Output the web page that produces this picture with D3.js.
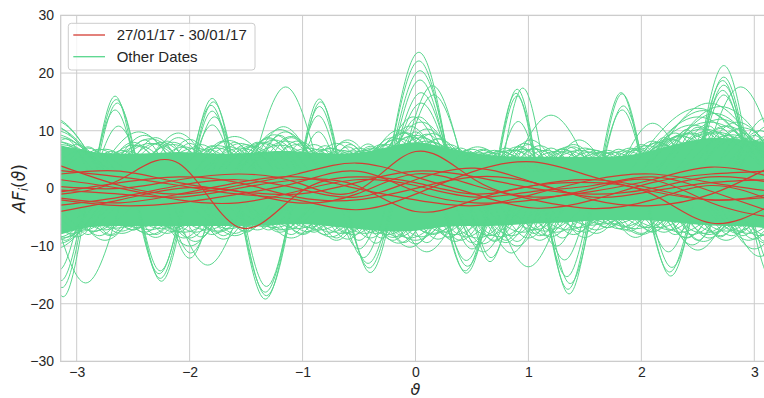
<!DOCTYPE html>
<html><head><meta charset="utf-8">
<script src="https://cdn.jsdelivr.net/npm/d3@7"></script>
<style>body{margin:0;background:#fff}svg text{font-family:"Liberation Sans",Arial,sans-serif}</style>
</head><body><svg id="c" width="764" height="398"></svg>
<script>
// ---------------- data ----------------
const xTicks = [-3, -2, -1, 0, 1, 2, 3];
const yTicks = [-30, -20, -10, 0, 10, 20, 30];
const legendLabels = ["27/01/17 - 30/01/17", "Other Dates"];

// dense core of the "Other Dates" curves
const bandTheta = [-3.142,-2.880,-2.618,-2.356,-2.094,-1.833,-1.571,-1.309,-1.047,-0.785,-0.524,-0.262,0,0.262,0.524,0.785,1.047,1.309,1.571,1.833,2.094,2.356,2.618,2.880,3.142];
const bandUpper = [7.5,6.2,6.0,6.0,6.5,6.0,6.0,6.5,6.5,6.0,6.0,7.0,8.5,7.0,6.0,5.5,5.5,5.5,5.5,5.5,6.5,8.0,9.0,8.5,8.0];
const bandLower = [-8.0,-6.5,-6.5,-6.5,-6.5,-6.5,-6.5,-6.5,-6.0,-6.5,-7.0,-7.5,-7.5,-6.5,-6.5,-6.5,-6.0,-6.0,-5.5,-5.5,-5.5,-6.0,-6.5,-6.5,-7.0];

// dense fringe arcs just outside the core
const upperFringe = [
[[-3.30,3],[-3.10,8.6],[-2.90,3]],[[-3.25,3],[-3.00,7.6],[-2.75,3]],[[-3.10,3],[-2.90,7.2],[-2.70,3]],
[[-3.05,3],[-2.80,6.8],[-2.55,3]],[[-2.90,3],[-2.70,6.4],[-2.50,3]],[[-2.80,3],[-2.60,6.6],[-2.40,3]],
[[-2.75,3],[-2.50,8.0],[-2.25,3]],[[-2.60,3],[-2.40,8.4],[-2.20,3]],[[-2.55,3],[-2.30,8.8],[-2.05,3]],
[[-2.40,3],[-2.20,8.2],[-2.00,3]],[[-2.35,3],[-2.10,8.8],[-1.85,3]],[[-2.20,3],[-2.00,7.8],[-1.80,3]],
[[-2.15,3],[-1.90,7.6],[-1.65,3]],[[-2.00,3],[-1.80,7.4],[-1.60,3]],[[-1.95,3],[-1.70,8.2],[-1.45,3]],
[[-1.80,3],[-1.60,8.0],[-1.40,3]],[[-1.75,3],[-1.50,7.6],[-1.25,3]],[[-1.60,3],[-1.40,8.0],[-1.20,3]],
[[-1.55,3],[-1.30,8.8],[-1.05,3]],[[-1.40,3],[-1.20,9.2],[-1.00,3]],[[-1.35,3],[-1.10,8.8],[-0.85,3]],
[[-1.20,3],[-1.00,8.0],[-0.80,3]],[[-1.15,3],[-0.90,7.6],[-0.65,3]],[[-1.00,3],[-0.80,7.4],[-0.60,3]],
[[-0.95,3],[-0.70,7.8],[-0.45,3]],[[-0.80,3],[-0.60,7.2],[-0.40,3]],[[-0.75,3],[-0.50,7.0],[-0.25,3]],
[[-0.60,3],[-0.40,7.0],[-0.20,3]],[[-0.55,3],[-0.30,7.6],[-0.05,3]],[[-0.40,3],[-0.20,8.4],[0.00,3]],
[[-0.35,3],[-0.10,9.6],[0.15,3]],[[-0.20,3],[0.00,9.8],[0.20,3]],[[-0.15,3],[0.10,9.4],[0.35,3]],
[[0.00,3],[0.20,8.6],[0.40,3]],[[0.05,3],[0.30,7.6],[0.55,3]],[[0.20,3],[0.40,7.0],[0.60,3]],
[[0.25,3],[0.50,6.8],[0.75,3]],[[0.40,3],[0.60,6.6],[0.80,3]],[[0.45,3],[0.70,6.6],[0.95,3]],
[[0.60,3],[0.80,7.0],[1.00,3]],[[0.65,3],[0.90,7.2],[1.15,3]],[[0.80,3],[1.00,7.6],[1.20,3]],
[[0.85,3],[1.10,7.4],[1.35,3]],[[1.00,3],[1.20,7.0],[1.40,3]],[[1.05,3],[1.30,6.8],[1.55,3]],
[[1.20,3],[1.40,7.2],[1.60,3]],[[1.25,3],[1.50,7.0],[1.75,3]],[[1.40,3],[1.60,6.6],[1.80,3]],
[[1.45,3],[1.70,6.6],[1.95,3]],[[1.60,3],[1.80,6.8],[2.00,3]],[[1.65,3],[1.90,7.0],[2.15,3]],
[[1.80,3],[2.00,7.6],[2.20,3]],[[1.85,3],[2.10,8.2],[2.35,3]],[[2.00,3],[2.20,8.8],[2.40,3]],
[[2.05,3],[2.30,9.6],[2.55,3]],[[2.20,3],[2.40,10.2],[2.60,3]],[[2.25,3],[2.50,10.6],[2.75,3]],
[[2.40,3],[2.60,10.8],[2.80,3]],[[2.45,3],[2.70,10.4],[2.95,3]],[[2.60,3],[2.80,10.0],[3.00,3]],
[[2.65,3],[2.90,9.6],[3.15,3]],[[2.80,3],[3.00,9.2],[3.20,3]],[[2.85,3],[3.10,9.0],[3.35,3]],
[[-3.45,3],[-3.15,8.0],[-2.85,3]],[[-3.40,3],[-3.05,7.0],[-2.70,3]],[[-3.25,3],[-2.95,6.6],[-2.65,3]],
[[-3.15,3],[-2.85,6.2],[-2.55,3]],[[-2.75,3],[-2.45,7.4],[-2.15,3]],[[-2.70,3],[-2.35,7.8],[-2.00,3]],
[[-2.55,3],[-2.25,8.0],[-1.95,3]],[[-2.50,3],[-2.15,7.6],[-1.80,3]],[[-2.35,3],[-2.05,7.2],[-1.75,3]],
[[-2.30,3],[-1.95,7.0],[-1.60,3]],[[-2.15,3],[-1.85,6.8],[-1.55,3]],[[-2.10,3],[-1.75,7.4],[-1.40,3]],
[[-1.95,3],[-1.65,7.2],[-1.35,3]],[[-1.90,3],[-1.55,7.0],[-1.20,3]],[[-1.75,3],[-1.45,7.4],[-1.15,3]],
[[-1.70,3],[-1.35,8.0],[-1.00,3]],[[-1.55,3],[-1.25,8.4],[-0.95,3]],[[-1.50,3],[-1.15,8.2],[-0.80,3]],
[[-1.35,3],[-1.05,7.6],[-0.75,3]],[[-1.30,3],[-0.95,7.0],[-0.60,3]],[[-1.15,3],[-0.85,6.8],[-0.55,3]],
[[-1.10,3],[-0.75,6.9],[-0.40,3]],[[-0.95,3],[-0.65,6.6],[-0.35,3]],[[-0.90,3],[-0.55,6.5],[-0.20,3]],
[[-0.75,3],[-0.45,6.6],[-0.15,3]],[[-0.70,3],[-0.35,6.9],[0.00,3]],[[-0.55,3],[-0.25,7.6],[0.05,3]],
[[-0.50,3],[-0.15,8.6],[0.20,3]],[[-0.35,3],[-0.05,9.0],[0.25,3]],[[-0.30,3],[0.05,8.8],[0.40,3]],
[[-0.15,3],[0.15,8.0],[0.45,3]],[[-0.10,3],[0.25,7.2],[0.60,3]],[[0.05,3],[0.35,6.6],[0.65,3]],
[[0.10,3],[0.45,6.3],[0.80,3]],[[0.25,3],[0.55,6.2],[0.85,3]],[[0.30,3],[0.65,6.2],[1.00,3]],
[[0.45,3],[0.75,6.4],[1.05,3]],[[0.50,3],[0.85,6.6],[1.20,3]],[[0.65,3],[0.95,6.8],[1.25,3]],
[[0.70,3],[1.05,6.8],[1.40,3]],[[0.85,3],[1.15,6.6],[1.45,3]],[[0.90,3],[1.25,6.4],[1.60,3]],
[[1.05,3],[1.35,6.5],[1.65,3]],[[1.10,3],[1.45,6.6],[1.80,3]],[[1.25,3],[1.55,6.3],[1.85,3]],
[[1.30,3],[1.65,6.2],[2.00,3]],[[1.45,3],[1.75,6.3],[2.05,3]],[[1.50,3],[1.85,6.5],[2.20,3]],
[[1.65,3],[1.95,6.9],[2.25,3]],[[1.70,3],[2.05,7.4],[2.40,3]],[[1.85,3],[2.15,8.0],[2.45,3]],
[[1.90,3],[2.25,8.6],[2.60,3]],[[2.05,3],[2.35,9.2],[2.65,3]],[[2.10,3],[2.45,9.6],[2.80,3]],
[[2.25,3],[2.55,9.8],[2.85,3]],[[2.30,3],[2.65,9.6],[3.00,3]],[[2.45,3],[2.75,9.2],[3.05,3]],
[[2.50,3],[2.85,8.8],[3.20,3]],[[2.65,3],[2.95,8.6],[3.25,3]],[[2.70,3],[3.05,8.4],[3.40,3]],
[[2.85,3],[3.15,8.2],[3.45,3]]
];
const lowerFringe = [
[[-3.30,-3],[-3.10,-9.0],[-2.90,-3]],[[-3.25,-3],[-3.00,-8.4],[-2.75,-3]],[[-3.10,-3],[-2.90,-8.0],[-2.70,-3]],
[[-3.05,-3],[-2.80,-8.2],[-2.55,-3]],[[-2.90,-3],[-2.70,-8.0],[-2.50,-3]],[[-2.85,-3],[-2.60,-7.4],[-2.35,-3]],
[[-2.70,-3],[-2.50,-7.2],[-2.30,-3]],[[-2.65,-3],[-2.40,-7.6],[-2.15,-3]],[[-2.50,-3],[-2.30,-8.0],[-2.10,-3]],
[[-2.45,-3],[-2.20,-7.8],[-1.95,-3]],[[-2.30,-3],[-2.10,-7.6],[-1.90,-3]],[[-2.25,-3],[-2.00,-8.6],[-1.75,-3]],
[[-2.10,-3],[-1.90,-8.4],[-1.70,-3]],[[-2.05,-3],[-1.80,-8.0],[-1.55,-3]],[[-1.90,-3],[-1.70,-8.2],[-1.50,-3]],
[[-1.85,-3],[-1.60,-7.8],[-1.35,-3]],[[-1.70,-3],[-1.50,-7.6],[-1.30,-3]],[[-1.65,-3],[-1.40,-7.2],[-1.15,-3]],
[[-1.50,-3],[-1.30,-7.2],[-1.10,-3]],[[-1.45,-3],[-1.20,-7.6],[-0.95,-3]],[[-1.30,-3],[-1.10,-8.0],[-0.90,-3]],
[[-1.25,-3],[-1.00,-7.8],[-0.75,-3]],[[-1.10,-3],[-0.90,-7.6],[-0.70,-3]],[[-1.05,-3],[-0.80,-8.0],[-0.55,-3]],
[[-0.90,-3],[-0.70,-8.6],[-0.50,-3]],[[-0.85,-3],[-0.60,-8.8],[-0.35,-3]],[[-0.70,-3],[-0.50,-9.0],[-0.30,-3]],
[[-0.65,-3],[-0.40,-8.6],[-0.15,-3]],[[-0.50,-3],[-0.30,-8.6],[-0.10,-3]],[[-0.45,-3],[-0.20,-9.0],[0.05,-3]],
[[-0.30,-3],[-0.10,-9.4],[0.10,-3]],[[-0.25,-3],[0.00,-9.6],[0.25,-3]],[[-0.10,-3],[0.10,-9.4],[0.30,-3]],
[[-0.05,-3],[0.20,-8.8],[0.45,-3]],[[0.10,-3],[0.30,-8.6],[0.50,-3]],[[0.15,-3],[0.40,-9.0],[0.65,-3]],
[[0.30,-3],[0.50,-9.4],[0.70,-3]],[[0.35,-3],[0.60,-9.6],[0.85,-3]],[[0.50,-3],[0.70,-9.2],[0.90,-3]],
[[0.55,-3],[0.80,-9.4],[1.05,-3]],[[0.70,-3],[0.90,-9.2],[1.10,-3]],[[0.75,-3],[1.00,-8.6],[1.25,-3]],
[[0.90,-3],[1.10,-8.2],[1.30,-3]],[[0.95,-3],[1.20,-8.4],[1.45,-3]],[[1.10,-3],[1.30,-8.6],[1.50,-3]],
[[1.15,-3],[1.40,-8.0],[1.65,-3]],[[1.30,-3],[1.50,-7.6],[1.70,-3]],[[1.35,-3],[1.60,-7.2],[1.85,-3]],
[[1.50,-3],[1.70,-6.8],[1.90,-3]],[[1.55,-3],[1.80,-7.0],[2.05,-3]],[[1.70,-3],[1.90,-7.4],[2.10,-3]],
[[1.75,-3],[2.00,-7.8],[2.25,-3]],[[1.90,-3],[2.10,-7.6],[2.30,-3]],[[1.95,-3],[2.20,-7.6],[2.45,-3]],
[[2.10,-3],[2.30,-8.0],[2.50,-3]],[[2.15,-3],[2.40,-8.6],[2.65,-3]],[[2.30,-3],[2.50,-9.0],[2.70,-3]],
[[2.35,-3],[2.60,-8.6],[2.85,-3]],[[2.50,-3],[2.70,-8.4],[2.90,-3]],[[2.55,-3],[2.80,-8.2],[3.05,-3]],
[[2.70,-3],[2.90,-8.2],[3.10,-3]],[[2.75,-3],[3.00,-8.8],[3.25,-3]],[[2.90,-3],[3.10,-9.2],[3.30,-3]],
[[-3.45,-3],[-3.15,-8.4],[-2.85,-3]],[[-3.40,-3],[-3.05,-7.8],[-2.70,-3]],[[-3.25,-3],[-2.95,-7.4],[-2.65,-3]],
[[-3.20,-3],[-2.85,-7.4],[-2.50,-3]],[[-3.05,-3],[-2.75,-7.2],[-2.45,-3]],[[-3.00,-3],[-2.65,-6.9],[-2.30,-3]],
[[-2.85,-3],[-2.55,-6.6],[-2.25,-3]],[[-2.80,-3],[-2.45,-6.8],[-2.10,-3]],[[-2.65,-3],[-2.35,-7.2],[-2.05,-3]],
[[-2.60,-3],[-2.25,-7.0],[-1.90,-3]],[[-2.45,-3],[-2.15,-6.9],[-1.85,-3]],[[-2.40,-3],[-2.05,-7.6],[-1.70,-3]],
[[-2.25,-3],[-1.95,-7.6],[-1.65,-3]],[[-2.20,-3],[-1.85,-7.2],[-1.50,-3]],[[-2.05,-3],[-1.75,-7.4],[-1.45,-3]],
[[-2.00,-3],[-1.65,-7.0],[-1.30,-3]],[[-1.85,-3],[-1.55,-6.8],[-1.25,-3]],[[-1.80,-3],[-1.45,-6.6],[-1.10,-3]],
[[-1.65,-3],[-1.35,-6.6],[-1.05,-3]],[[-1.60,-3],[-1.25,-6.8],[-0.90,-3]],[[-1.45,-3],[-1.15,-7.2],[-0.85,-3]],
[[-1.40,-3],[-1.05,-7.0],[-0.70,-3]],[[-1.25,-3],[-0.95,-6.8],[-0.65,-3]],[[-1.20,-3],[-0.85,-7.2],[-0.50,-3]],
[[-1.05,-3],[-0.75,-7.6],[-0.45,-3]],[[-1.00,-3],[-0.65,-7.8],[-0.30,-3]],[[-0.85,-3],[-0.55,-8.0],[-0.25,-3]],
[[-0.80,-3],[-0.45,-7.8],[-0.10,-3]],[[-0.65,-3],[-0.35,-7.8],[-0.05,-3]],[[-0.60,-3],[-0.25,-8.0],[0.10,-3]],
[[-0.45,-3],[-0.15,-8.4],[0.15,-3]],[[-0.40,-3],[-0.05,-8.6],[0.30,-3]],[[-0.25,-3],[0.05,-8.4],[0.35,-3]],
[[-0.20,-3],[0.15,-7.8],[0.50,-3]],[[-0.05,-3],[0.25,-7.6],[0.55,-3]],[[0.00,-3],[0.35,-8.0],[0.70,-3]],
[[0.15,-3],[0.45,-8.4],[0.75,-3]],[[0.20,-3],[0.55,-8.6],[0.90,-3]],[[0.35,-3],[0.65,-8.2],[0.95,-3]],
[[0.40,-3],[0.75,-8.4],[1.10,-3]],[[0.55,-3],[0.85,-8.2],[1.15,-3]],[[0.60,-3],[0.95,-7.6],[1.30,-3]],
[[0.75,-3],[1.05,-7.2],[1.35,-3]],[[0.80,-3],[1.15,-7.4],[1.50,-3]],[[0.95,-3],[1.25,-7.6],[1.55,-3]],
[[1.00,-3],[1.35,-7.2],[1.70,-3]],[[1.15,-3],[1.45,-6.8],[1.75,-3]],[[1.20,-3],[1.55,-6.4],[1.90,-3]],
[[1.35,-3],[1.65,-6.2],[1.95,-3]],[[1.40,-3],[1.75,-6.2],[2.10,-3]],[[1.55,-3],[1.85,-6.6],[2.15,-3]],
[[1.60,-3],[1.95,-7.0],[2.30,-3]],[[1.75,-3],[2.05,-6.8],[2.35,-3]],[[1.80,-3],[2.15,-6.8],[2.50,-3]],
[[1.95,-3],[2.25,-7.2],[2.55,-3]],[[2.00,-3],[2.35,-7.6],[2.70,-3]],[[2.15,-3],[2.45,-8.0],[2.75,-3]],
[[2.20,-3],[2.55,-7.8],[2.90,-3]],[[2.35,-3],[2.65,-7.6],[2.95,-3]],[[2.40,-3],[2.75,-7.4],[3.10,-3]],
[[2.55,-3],[2.85,-7.4],[3.15,-3]],[[2.60,-3],[2.95,-7.8],[3.30,-3]],[[2.75,-3],[3.05,-8.2],[3.35,-3]],
[[2.80,-3],[3.15,-8.4],[3.50,-3]]
];

// outer arcs of "Other Dates" curves
const upperArcs = [
[[-3.64,3],[-3.22,12.3],[-2.80,3]],[[-3.60,3],[-3.20,11.8],[-2.80,3]],[[-3.70,3],[-3.25,11.2],[-2.80,3]],
[[-3.62,3],[-3.20,10.6],[-2.78,3]],[[-3.58,3],[-3.18,10.0],[-2.78,3]],[[-3.65,3],[-3.20,9.4],[-2.75,3]],
[[-3.55,3],[-3.15,8.8],[-2.75,3]],[[-3.70,3],[-3.20,8.2],[-2.70,3]],[[-3.60,3],[-3.15,7.6],[-2.70,3]],
[[-2.80,3],[-2.45,9.8],[-2.10,3]],[[-2.70,3],[-2.40,9.2],[-2.10,3]],[[-2.70,3],[-2.35,8.6],[-2.00,3]],
[[-2.80,3],[-2.50,7.5],[-2.20,3]],[[-2.60,3],[-2.30,7.8],[-2.00,3]],[[-3.05,3],[-2.75,6.8],[-2.45,3]],
[[-2.80,3],[-2.55,6.5],[-2.30,3]],[[-2.95,3],[-2.65,5.8],[-2.35,3]],[[-3.15,3],[-2.90,7.0],[-2.65,3]],
[[-2.40,3],[-2.10,9.6],[-1.80,3]],[[-2.25,3],[-2.00,8.5],[-1.75,3]],[[-2.45,3],[-2.15,8.0],[-1.85,3]],
[[-1.95,3],[-1.60,9.0],[-1.25,3]],[[-1.95,3],[-1.65,8.3],[-1.35,3]],[[-1.85,3],[-1.55,7.8],[-1.25,3]],
[[-2.05,3],[-1.75,7.0],[-1.45,3]],[[-1.70,3],[-1.45,7.2],[-1.20,3]],
[[-1.47,3],[-1.17,10.7],[-0.87,3]],[[-1.55,3],[-1.20,10.2],[-0.85,3]],[[-1.45,3],[-1.15,9.8],[-0.85,3]],
[[-1.55,3],[-1.25,9.3],[-0.95,3]],[[-1.40,3],[-1.10,9.0],[-0.80,3]],[[-1.60,3],[-1.30,8.6],[-1.00,3]],
[[-1.30,3],[-1.05,8.2],[-0.80,3]],[[-1.60,3],[-1.35,7.8],[-1.10,3]],[[-1.60,3],[-1.20,7.5],[-0.80,3]],
[[-0.85,3],[-0.60,8.4],[-0.35,3]],[[-0.87,3],[-0.62,8.0],[-0.37,3]],[[-0.78,3],[-0.58,7.6],[-0.38,3]],
[[-0.62,3],[-0.42,7.7],[-0.22,3]],[[-0.60,3],[-0.40,7.3],[-0.20,3]],[[-1.00,3],[-0.75,7.0],[-0.50,3]],
[[-0.55,3],[-0.30,6.8],[-0.05,3]],
[[-0.32,3],[-0.02,12.4],[0.28,3]],[[-0.45,3],[-0.15,10.1],[0.15,3]],[[-0.30,3],[0.05,11.5],[0.40,3]],
[[-0.35,3],[-0.05,10.8],[0.25,3]],[[-0.20,3],[0.10,10.3],[0.40,3]],[[-0.45,3],[-0.10,9.7],[0.25,3]],
[[-0.15,3],[0.15,9.5],[0.45,3]],[[-0.40,3],[0.00,9.2],[0.40,3]],[[-0.50,3],[-0.20,8.8],[0.10,3]],
[[-0.10,3],[0.20,8.6],[0.50,3]],[[-0.30,3],[0.10,8.2],[0.50,3]],
[[0.25,3],[0.55,7.2],[0.85,3]],[[0.35,3],[0.60,6.8],[0.85,3]],[[0.25,3],[0.45,6.6],[0.65,3]],
[[0.50,3],[0.75,6.5],[1.00,3]],[[0.15,3],[0.35,7.0],[0.55,3]],
[[0.72,3],[0.97,7.8],[1.22,3]],[[0.77,3],[1.02,8.4],[1.27,3]],[[0.73,3],[0.93,7.3],[1.13,3]],
[[0.85,3],[1.05,7.0],[1.25,3]],[[0.68,3],[0.88,6.7],[1.08,3]],
[[0.85,3],[1.20,12.7],[1.55,3]],[[1.20,3],[1.45,8.4],[1.70,3]],[[1.15,3],[1.40,7.6],[1.65,3]],
[[1.10,3],[1.30,6.9],[1.50,3]],[[1.30,3],[1.55,6.8],[1.80,3]],[[1.45,3],[1.65,6.4],[1.85,3]],
[[1.10,3],[1.35,7.2],[1.60,3]],
[[1.80,3],[2.10,11.3],[2.40,3]],[[1.90,3],[2.15,8.0],[2.40,3]],[[1.90,3],[2.20,7.5],[2.50,3]],
[[1.80,3],[2.00,7.0],[2.20,3]],[[2.03,3],[2.28,8.4],[2.53,3]],[[1.70,3],[1.95,6.6],[2.20,3]],
[[2.05,3],[2.60,14.8],[3.15,3]],[[2.00,3],[2.55,13.5],[3.10,3]],[[2.15,3],[2.65,13.0],[3.15,3]],
[[1.95,3],[2.50,12.4],[3.05,3]],[[2.20,3],[2.70,12.0],[3.20,3]],[[2.00,3],[2.60,11.5],[3.20,3]],
[[1.95,3],[2.45,11.0],[2.95,3]],[[2.30,3],[2.75,10.8],[3.20,3]],[[2.00,3],[2.55,10.3],[3.10,3]],
[[2.10,3],[2.65,9.8],[3.20,3]],[[1.95,3],[2.40,9.5],[2.85,3]],[[2.45,3],[2.85,11.5],[3.25,3]],
[[2.50,3],[2.90,10.5],[3.30,3]],[[1.90,3],[2.35,9.0],[2.80,3]],[[2.35,3],[2.80,9.3],[3.25,3]],
[[1.90,3],[2.50,13.9],[3.10,3]],[[2.15,3],[2.70,14.2],[3.25,3]],
[[2.80,3],[3.10,12.2],[3.40,3]],[[2.80,3],[3.15,11.0],[3.50,3]],[[2.75,3],[3.05,10.0],[3.35,3]],
[[2.80,3],[3.20,9.2],[3.60,3]]
];
const lowerArcs = [
[[-3.60,-3],[-3.20,-10.5],[-2.80,-3]],[[-3.50,-3],[-3.15,-9.5],[-2.80,-3]],[[-3.65,-3],[-3.20,-9.0],[-2.75,-3]],
[[-3.40,-3],[-3.10,-8.5],[-2.80,-3]],[[-3.05,-3],[-2.75,-9.0],[-2.45,-3]],[[-2.95,-3],[-2.70,-8.2],[-2.45,-3]],
[[-2.90,-3],[-2.60,-7.8],[-2.30,-3]],[[-3.10,-3],[-2.85,-7.5],[-2.60,-3]],[[-2.75,-3],[-2.50,-7.2],[-2.25,-3]],
[[-2.55,-3],[-2.30,-8.5],[-2.05,-3]],[[-2.65,-3],[-2.35,-8.0],[-2.05,-3]],[[-2.40,-3],[-2.15,-7.5],[-1.90,-3]],
[[-2.30,-3],[-2.00,-10.0],[-1.70,-3]],[[-2.20,-3],[-1.95,-9.2],[-1.70,-3]],[[-2.30,-3],[-2.05,-8.6],[-1.80,-3]],
[[-1.95,-3],[-1.70,-8.8],[-1.45,-3]],[[-1.90,-3],[-1.60,-8.2],[-1.30,-3]],[[-2.05,-3],[-1.75,-7.6],[-1.45,-3]],
[[-1.75,-3],[-1.50,-7.4],[-1.25,-3]],[[-1.40,-3],[-1.10,-8.6],[-0.80,-3]],[[-1.25,-3],[-1.00,-8.0],[-0.75,-3]],
[[-1.25,-3],[-0.95,-7.5],[-0.65,-3]],[[-1.50,-3],[-1.20,-7.2],[-0.90,-3]],[[-0.95,-3],[-0.70,-9.0],[-0.45,-3]],
[[-1.05,-3],[-0.75,-8.4],[-0.45,-3]],[[-0.85,-3],[-0.60,-7.8],[-0.35,-3]],[[-0.70,-3],[-0.50,-10.5],[-0.30,-3]],
[[-0.55,-3],[-0.35,-9.5],[-0.15,-3]],[[-0.45,-3],[-0.15,-9.5],[0.15,-3]],[[-0.35,-3],[-0.05,-10.2],[0.25,-3]],
[[-0.20,-3],[0.10,-11.0],[0.40,-3]],[[-0.35,-3],[0.00,-9.0],[0.35,-3]],[[-0.45,-3],[-0.20,-8.5],[0.05,-3]],
[[-0.15,-3],[0.15,-8.0],[0.45,-3]],[[0.10,-3],[0.35,-9.2],[0.60,-3]],[[0.05,-3],[0.30,-8.4],[0.55,-3]],
[[0.35,-3],[0.55,-9.8],[0.75,-3]],[[0.35,-3],[0.60,-11.0],[0.85,-3]],[[0.30,-3],[0.50,-10.5],[0.70,-3]],
[[0.45,-3],[0.70,-9.0],[0.95,-3]],[[0.60,-3],[0.85,-11.2],[1.10,-3]],[[0.65,-3],[0.90,-10.0],[1.15,-3]],
[[0.60,-3],[0.80,-9.0],[1.00,-3]],[[0.85,-3],[1.10,-9.0],[1.35,-3]],[[0.90,-3],[1.15,-8.2],[1.40,-3]],
[[0.85,-3],[1.05,-7.8],[1.25,-3]],[[1.05,-3],[1.25,-10.0],[1.45,-3]],[[1.25,-3],[1.50,-8.5],[1.75,-3]],
[[1.35,-3],[1.60,-7.8],[1.85,-3]],[[1.45,-3],[1.70,-6.8],[1.95,-3]],[[1.25,-3],[1.45,-7.5],[1.65,-3]],
[[1.70,-3],[1.95,-8.5],[2.20,-3]],[[1.70,-3],[2.00,-8.0],[2.30,-3]],[[1.85,-3],[2.10,-7.5],[2.35,-3]],
[[1.60,-3],[1.85,-7.2],[2.10,-3]],[[2.20,-3],[2.50,-10.7],[2.80,-3]],[[2.20,-3],[2.45,-9.8],[2.70,-3]],
[[2.25,-3],[2.55,-9.2],[2.85,-3]],[[2.15,-3],[2.40,-8.5],[2.65,-3]],[[2.45,-3],[2.75,-9.0],[3.05,-3]],
[[2.45,-3],[2.70,-8.2],[2.95,-3]],[[2.60,-3],[2.85,-7.8],[3.10,-3]],[[2.30,-3],[2.60,-8.0],[2.90,-3]],
[[2.75,-3],[3.05,-11.8],[3.35,-3]],[[2.70,-3],[3.00,-10.5],[3.30,-3]],[[2.85,-3],[3.10,-9.5],[3.35,-3]],
[[2.65,-3],[2.95,-9.0],[3.25,-3]]
];

// tall outlying peaks of "Other Dates" curves
const spikesUp = [
[[-2.84,3],[-2.66,16.0],[-2.48,3]],[[-2.84,3],[-2.65,15.4],[-2.46,3]],[[-2.83,3],[-2.64,14.8],[-2.45,3]],
[[-2.85,3],[-2.66,13.6],[-2.47,3]],[[-2.83,3],[-2.63,10.8],[-2.43,3]],
[[-1.99,3],[-1.80,15.6],[-1.61,3]],[[-1.98,3],[-1.79,15.0],[-1.60,3]],[[-2.00,3],[-1.81,14.4],[-1.62,3]],
[[-1.98,3],[-1.80,13.4],[-1.62,3]],[[-1.97,3],[-1.78,12.4],[-1.59,3]],[[-1.99,3],[-1.80,11.0],[-1.61,3]],
[[-1.45,3],[-1.15,17.6],[-0.85,3]],
[[-1.03,3],[-0.85,15.5],[-0.67,3]],[[-1.02,3],[-0.84,15.0],[-0.66,3]],[[-1.03,3],[-0.85,14.2],[-0.67,3]],
[[-1.04,3],[-0.86,12.6],[-0.68,3]],[[-1.03,3],[-0.86,9.8],[-0.69,3]],
[[-0.25,3],[0.03,23.6],[0.31,3]],[[-0.25,3],[0.03,22.1],[0.31,3]],[[-0.24,3],[0.04,20.4],[0.32,3]],
[[-0.23,3],[0.04,18.8],[0.31,3]],[[-0.22,3],[0.05,16.6],[0.32,3]],[[-0.22,3],[0.05,14.8],[0.32,3]],
[[-0.24,3],[0.03,12.4],[0.30,3]],
[[-0.13,3],[0.15,17.8],[0.43,3]],[[-0.12,3],[0.16,16.2],[0.44,3]],
[[0.72,3],[0.90,17.2],[1.08,3]],[[0.76,3],[0.95,17.4],[1.14,3]],[[0.71,3],[0.89,16.5],[1.07,3]],
[[0.72,3],[0.90,16.0],[1.08,3]],[[0.73,3],[0.91,11.6],[1.09,3]],
[[1.63,3],[1.82,16.6],[2.01,3]],[[1.64,3],[1.83,16.4],[2.02,3]],[[1.65,3],[1.84,14.3],[2.03,3]],
[[1.64,3],[1.83,13.6],[2.02,3]],
[[2.49,3],[2.73,21.3],[2.97,3]],[[2.50,3],[2.73,19.3],[2.96,3]],[[2.49,3],[2.72,18.7],[2.95,3]],
[[2.50,3],[2.73,17.9],[2.96,3]],[[2.49,3],[2.72,17.0],[2.95,3]],[[2.50,3],[2.73,16.2],[2.96,3]],
[[2.53,3],[2.88,17.6],[3.23,3]]
];
const spikesDown = [
[[-3.32,-3],[-3.12,-18.8],[-2.92,-3]],[[-3.33,-3],[-3.13,-17.2],[-2.93,-3]],[[-3.34,-3],[-3.14,-16.0],[-2.94,-3]],
[[-3.36,-3],[-3.16,-14.2],[-2.96,-3]],[[-3.22,-3],[-2.92,-16.4],[-2.62,-3]],
[[-2.45,-3],[-2.25,-16.1],[-2.05,-3]],[[-2.46,-3],[-2.26,-15.6],[-2.06,-3]],[[-2.47,-3],[-2.27,-14.8],[-2.07,-3]],
[[-2.45,-3],[-2.26,-14.3],[-2.07,-3]],
[[-2.20,-3],[-2.00,-12.1],[-1.80,-3]],[[-2.19,-3],[-1.99,-11.2],[-1.79,-3]],[[-2.14,-3],[-1.84,-13.3],[-1.54,-3]],
[[-1.56,-3],[-1.33,-19.2],[-1.10,-3]],[[-1.55,-3],[-1.32,-18.6],[-1.09,-3]],[[-1.56,-3],[-1.33,-18.0],[-1.10,-3]],
[[-1.54,-3],[-1.32,-17.0],[-1.10,-3]],
[[-0.60,-3],[-0.40,-14.6],[-0.20,-3]],[[-0.61,-3],[-0.41,-13.8],[-0.21,-3]],[[-0.62,-3],[-0.42,-13.0],[-0.22,-3]],
[[-0.66,-3],[-0.46,-12.0],[-0.26,-3]],
[[0.25,-3],[0.45,-14.7],[0.65,-3]],[[0.24,-3],[0.44,-14.3],[0.64,-3]],[[0.26,-3],[0.46,-13.5],[0.66,-3]],
[[0.25,-3],[0.45,-12.5],[0.65,-3]],[[0.48,-3],[0.66,-12.7],[0.84,-3]],[[0.49,-3],[0.67,-12.0],[0.85,-3]],
[[0.70,-3],[1.00,-13.6],[1.30,-3]],
[[1.16,-3],[1.36,-18.3],[1.56,-3]],[[1.15,-3],[1.35,-17.5],[1.55,-3]],[[1.17,-3],[1.37,-16.5],[1.57,-3]],
[[1.14,-3],[1.34,-15.3],[1.54,-3]],[[1.12,-3],[1.32,-12.4],[1.52,-3]],
[[2.06,-3],[2.26,-15.2],[2.46,-3]],[[2.05,-3],[2.25,-14.5],[2.45,-3]],[[2.07,-3],[2.27,-13.7],[2.47,-3]],
[[2.04,-3],[2.24,-11.0],[2.44,-3]],
[[2.95,-3],[3.16,-15.9],[3.37,-3]],[[2.96,-3],[3.17,-14.0],[3.38,-3]]
];

// 27/01/17 - 30/01/17 curves
const redTheta = [-3.142,-2.618,-2.094,-1.571,-1.047,-0.524,0,0.524,1.047,1.571,2.094,2.618,3.142];
const redSeries = [
[-1.0,1.5,4.3,-6.7,-1.0,2.0,1.0,-1.0,0.5,1.5,0.0,-2.0,-1.0],
[3.9,0.5,-1.0,0.5,2.5,4.4,2.0,-1.0,-3.4,-2.0,1.0,2.5,3.0],
[3.1,2.0,0.5,-1.0,-2.0,-3.7,-1.0,3.0,4.6,2.0,-0.5,-2.0,-1.5],
[0.3,0.0,1.5,2.5,1.0,-0.5,6.4,1.5,-1.5,-0.5,1.5,3.7,2.0],
[-0.3,-1.0,-1.5,0.0,1.5,0.5,-4.0,-2.0,0.5,1.0,-1.0,-6.0,-3.0],
[-0.6,1.0,2.0,1.0,-1.5,-2.0,0.0,2.0,1.0,-2.0,-3.0,-1.0,3.7],
[-1.7,-2.5,-1.0,1.0,2.0,0.0,-2.0,-3.0,-1.0,1.5,2.5,1.0,-0.5],
[-2.9,-1.5,0.5,1.5,0.0,-1.5,1.5,3.5,1.0,-1.5,-0.5,1.0,1.5],
[-4.0,-2.0,0.0,-0.5,-2.5,-1.0,2.5,0.5,-2.0,-3.5,-2.0,0.5,-2.0],
[1.5,0.0,-2.0,-2.5,-0.5,1.5,0.5,-1.5,-0.5,0.5,2.0,-0.5,-4.0],
[2.5,3.0,1.0,-0.5,-1.0,1.0,3.0,2.0,0.0,-1.0,0.0,2.0,1.0],
[-2.0,-3.0,-2.5,-1.0,1.0,3.0,-0.5,-2.5,-2.0,0.0,1.5,-2.5,-5.0]
];

// ---------------- drawing ----------------
const GREEN = "#58d68d", RED = "#d43d33", GRID = "#cccccc", TXT = "#262626";
const svg = d3.select("#c");
const L = 60.7, R = 770.3, T = 15.4, B = 361.4;
const x = d3.scaleLinear().domain([-Math.PI, Math.PI]).range([L, R]);
const y = d3.scaleLinear().domain([-30, 30]).range([B, T]);

svg.append("defs").append("clipPath").attr("id", "clip")
  .append("rect").attr("x", L).attr("y", T).attr("width", R - L).attr("height", B - T);

// grid
const grid = svg.append("g");
grid.selectAll(".vx").data(xTicks).join("line")
  .attr("x1", d => x(d)).attr("x2", d => x(d)).attr("y1", T).attr("y2", B)
  .attr("stroke", GRID).attr("stroke-width", 1);
grid.selectAll(".hy").data(yTicks).join("line")
  .attr("x1", L).attr("x2", R).attr("y1", d => y(d)).attr("y2", d => y(d))
  .attr("stroke", GRID).attr("stroke-width", 1);

const plot = svg.append("g").attr("clip-path", "url(#clip)");

// dense core
const area = d3.area().x((d, i) => x(bandTheta[i])).y0((d, i) => y(bandLower[i])).y1(d => y(d)).curve(d3.curveBasis);
plot.append("path").datum(bandUpper).attr("d", area).attr("fill", GREEN);

const arcLine = d3.line().x(d => x(d[0])).y(d => y(d[1])).curve(d3.curveNatural);
[upperFringe, lowerFringe, upperArcs, lowerArcs, spikesUp, spikesDown].forEach(set => {
  plot.append("g").selectAll("path").data(set).join("path")
    .attr("d", arcLine).attr("fill", "none").attr("stroke", GREEN).attr("stroke-width", 1);
});

const redLine = d3.line().x((d, i) => x(redTheta[i])).y(d => y(d)).curve(d3.curveNatural);
plot.append("g").selectAll("path").data(redSeries).join("path")
  .attr("d", redLine).attr("fill", "none").attr("stroke", RED).attr("stroke-width", 1.2);

// spines
svg.append("rect").attr("x", L).attr("y", T).attr("width", R - L).attr("height", B - T)
  .attr("fill", "none").attr("stroke", GRID).attr("stroke-width", 1.25);

// axes
const fmt = d3.format("");
const ax = svg.append("g").attr("transform", `translate(0,${B})`)
  .call(d3.axisBottom(x).tickValues(xTicks).tickFormat(fmt).tickSize(0).tickPadding(5.4));
const ay = svg.append("g").attr("transform", `translate(${L},0)`)
  .call(d3.axisLeft(y).tickValues(yTicks).tickFormat(fmt).tickSize(0).tickPadding(6.7));
[ax, ay].forEach(g => {
  g.select(".domain").remove();
  g.selectAll("text").attr("fill", TXT).style("font-size", "14px")
    .style("font-family", '"Liberation Sans", Arial, sans-serif');
});

// axis labels
svg.append("text").attr("x", x(0)).attr("y", 395).attr("text-anchor", "middle")
  .attr("fill", TXT).style("font-family", '"DejaVu Sans"').style("font-size", "16px")
  .style("font-style", "italic").text("ϑ");
const yl = svg.append("text").attr("transform", `translate(25,${y(0)}) rotate(-90)`)
  .attr("text-anchor", "middle").attr("fill", TXT)
  .style("font-family", '"DejaVu Sans"').style("font-size", "17px");
yl.append("tspan").style("font-style", "italic").text("AF");
yl.append("tspan").style("font-style", "italic").style("font-size", "12px").attr("dy", 3).text("i");
yl.append("tspan").attr("dy", -3).text("(");
yl.append("tspan").style("font-style", "italic").text("ϑ");
yl.append("tspan").text(")");

// legend
const lg = svg.append("g");
lg.append("rect").attr("x", 68.3).attr("y", 23.3).attr("width", 186.7).attr("height", 46.7)
  .attr("rx", 3).attr("fill", "#fff").attr("fill-opacity", 0.8).attr("stroke", GRID).attr("stroke-width", 1);
const entries = lg.selectAll("g").data(legendLabels).join("g")
  .attr("transform", (d, i) => `translate(0,${35 + i * 21.7})`);
entries.append("line").attr("x1", 73.3).attr("x2", 105).attr("y1", 0).attr("y2", 0)
  .attr("stroke", (d, i) => i === 0 ? RED : GREEN).attr("stroke-width", 1.3);
entries.append("text").attr("x", 116.7).attr("y", 5.4).attr("fill", TXT)
  .style("font-size", "15px").text(d => d);
</script></body></html>
